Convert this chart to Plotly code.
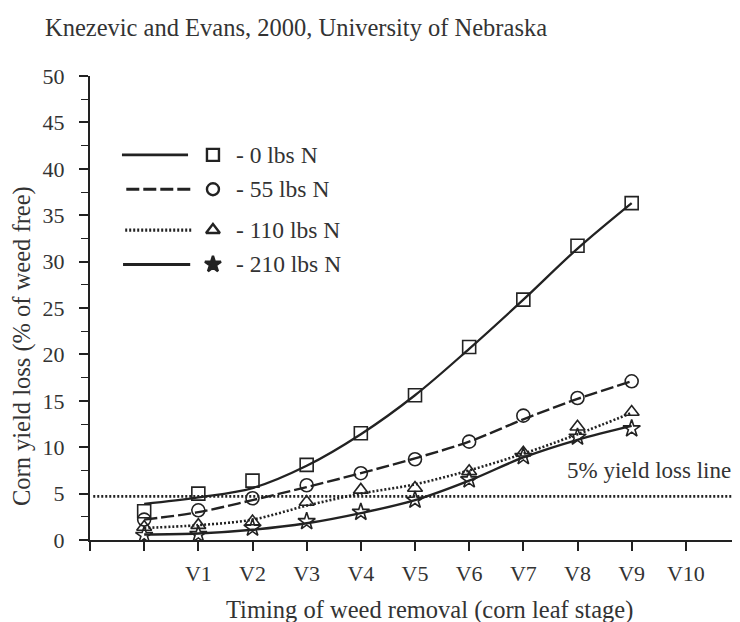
import plotly.graph_objects as go

# ---- data ----
stages = ["V0", "V1", "V2", "V3", "V4", "V5", "V6", "V7", "V8", "V9"]
stage_pos = list(range(len(stages)))
tick_vals = list(range(-1, 12))
tick_text = ["", "", "V1", "V2", "V3", "V4", "V5", "V6", "V7", "V8", "V9", "V10", ""]

loss_0 = [3.1, 5.0, 6.4, 8.1, 11.5, 15.6, 20.8, 25.9, 31.7, 36.3]
fit_0 = [3.9, 4.6, 5.6, 8.0, 11.4, 15.6, 20.6, 25.9, 31.4, 36.3]
loss_55 = [2.2, 3.2, 4.5, 5.9, 7.2, 8.7, 10.6, 13.4, 15.3, 17.1]
fit_55 = [2.2, 3.0, 4.3, 5.7, 7.2, 8.8, 10.6, 13.0, 15.2, 17.1]
loss_110 = [1.4, 1.6, 2.0, 4.1, 5.4, 5.6, 7.4, 9.4, 12.2, 13.8]
fit_110 = [1.3, 1.6, 2.2, 3.7, 5.0, 6.0, 7.5, 9.3, 11.4, 13.7]
loss_210 = [0.5, 0.6, 1.3, 2.0, 3.0, 4.3, 6.5, 9.0, 11.1, 12.0]
fit_210 = [0.6, 0.7, 1.1, 1.8, 2.9, 4.3, 6.4, 8.9, 10.8, 12.3]

series_names = ["- 0 lbs N", "- 55 lbs N", "- 110 lbs N", "- 210 lbs N"]
threshold = 4.7
threshold_label = "5% yield loss line"

INK = "#222222"
TXT = "#333333"
FONT = "Liberation Serif"

series = [
    (loss_0, fit_0, "solid", "square-open", "square-open", 2.3),
    (loss_55, fit_55, "13px,4px", "circle-open", "circle-open", 2.4),
    (loss_110, fit_110, "2px,2px", "triangle-up-open", "triangle-up-open", 2.6),
    (loss_210, fit_210, "solid", "star-open", "star", 2.4),
]

fig = go.Figure()

# threshold line
fig.add_trace(go.Scatter(x=[-0.94, 11], y=[threshold, threshold], mode="lines",
                         line=dict(color=INK, width=2.6, dash="2px,2px"),
                         showlegend=False, hoverinfo="skip"))

for loss, fit, dash, sym, _, lw in series:
    fig.add_trace(go.Scatter(x=stage_pos, y=fit, mode="lines", line_shape="spline",
                             line=dict(color=INK, width=lw, dash=dash),
                             showlegend=False, hoverinfo="skip"))
    fig.add_trace(go.Scatter(x=stage_pos, y=loss, mode="markers",
                             marker=dict(symbol=sym, size=13, color=INK,
                                         line=dict(color=INK, width=1.6)),
                             showlegend=False))

# custom legend
leg_y = [41.5, 37.8, 33.4, 29.7]
leg_x0 = [-0.41, -0.33, -0.35, -0.39]
leg_x1 = [0.81, 0.87, 0.87, 0.85]
for i, (loss, fit, dash, sym, legsym, lw) in enumerate(series):
    fig.add_trace(go.Scatter(x=[leg_x0[i], leg_x1[i]], y=[leg_y[i], leg_y[i]], mode="lines",
                             line=dict(color=INK, width=lw + 0.6, dash=dash),
                             showlegend=False, hoverinfo="skip"))
    fig.add_trace(go.Scatter(x=[1.27], y=[leg_y[i]], mode="markers",
                             marker=dict(symbol=legsym, size=12, color=INK,
                                         line=dict(color=INK, width=2.4)),
                             showlegend=False, hoverinfo="skip"))
    fig.add_annotation(x=1.66, y=leg_y[i], xref="x", yref="y", text=series_names[i],
                       showarrow=False, xanchor="left", yanchor="middle",
                       font=dict(family=FONT, size=23.5, color=TXT))

fig.add_annotation(x=9.32, y=7.5, xref="x", yref="y", text=threshold_label,
                   showarrow=False, xanchor="center", yanchor="middle",
                   font=dict(family=FONT, size=23, color=TXT))

# axis titles
fig.add_annotation(x=0.523, y=-0.151, xref="paper", yref="paper",
                   text="Timing of weed removal (corn leaf stage)",
                   showarrow=False, xanchor="center", yanchor="middle",
                   font=dict(family=FONT, size=24.5, color=TXT))
fig.add_annotation(x=-0.1046, y=0.418, xref="paper", yref="paper",
                   text="Corn yield loss (% of weed free)", textangle=-90,
                   showarrow=False, xanchor="center", yanchor="middle",
                   font=dict(family=FONT, size=24.5, color=TXT))

# the page body adds an 8px offset; size the figure so the plot lands in place
fig.update_layout(
    width=732, height=614,
    margin=dict(l=82, r=0, t=68, b=82, autoexpand=False),
    title=dict(text="Knezevic and Evans, 2000, University of Nebraska",
               xref="container", yref="container", x=0.0505, y=0.969,
               xanchor="left", yanchor="middle",
               font=dict(family=FONT, size=24.5, color=TXT)),
    plot_bgcolor="white", paper_bgcolor="white",
    font=dict(family=FONT, size=22, color=TXT),
    xaxis=dict(range=[-1, 11], tickvals=tick_vals, ticktext=tick_text, automargin=False,
               showline=True, linewidth=2, linecolor=INK, ticks="outside",
               ticklen=9, tickwidth=1.6, tickcolor=INK, showgrid=False, zeroline=False,
               ticklabelstandoff=4, tickfont=dict(family=FONT, size=22, color=TXT)),
    yaxis=dict(range=[0, 50], tickvals=list(range(0, 51, 5)), automargin=False,
               showline=True, linewidth=2, linecolor=INK, ticks="outside",
               ticklen=9, tickwidth=1.6, tickcolor=INK, showgrid=False, zeroline=False,
               ticklabelstandoff=10, tickfont=dict(family=FONT, size=22, color=TXT),
               minor=dict(dtick=2.5, ticks="outside", ticklen=7, tickwidth=1.4,
                          tickcolor=INK, showgrid=False)),
)

fig.write_html("out.html")
